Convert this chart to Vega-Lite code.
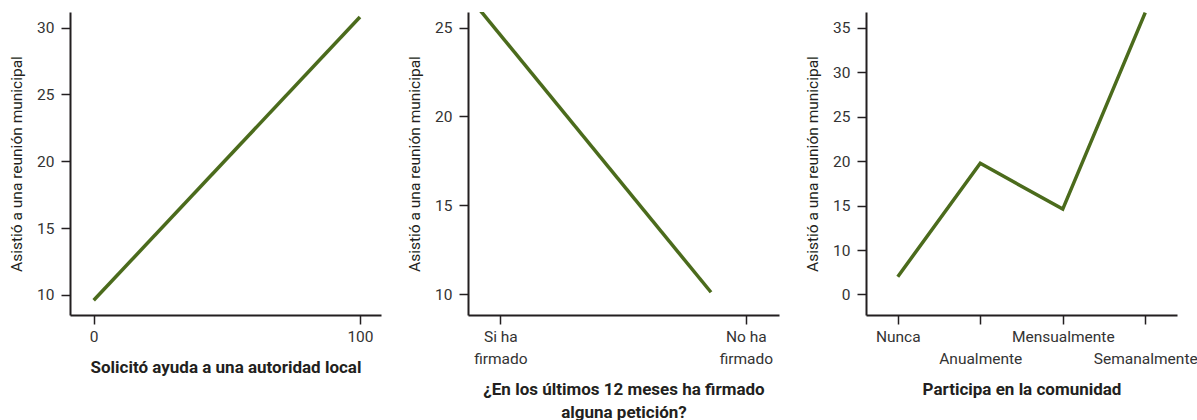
{
  "$schema": "https://vega.github.io/schema/vega-lite/v6.json",
  "padding": {"left": 9, "top": 5, "right": 0, "bottom": 0},
  "background": "white",
  "spacing": 87,
  "bounds": "flush",
  "datasets": {
    "ayuda": [
      {"solicito": 0, "asistio": 9.6},
      {"solicito": 100, "asistio": 30.8}
    ],
    "peticion": [
      {"firmado": 0.916, "asistio": 26.0},
      {"firmado": 1.858, "asistio": 10.1}
    ],
    "comunidad": [
      {"participa": "Nunca", "asistio": 7.0},
      {"participa": "Anualmente", "asistio": 19.75},
      {"participa": "Mensualmente", "asistio": 14.6},
      {"participa": "Semanalmente", "asistio": 36.7}
    ]
  },
  "config": {
    "view": {"stroke": null},
    "font": "Roboto",
    "axis": {
      "grid": false,
      "domainColor": "#231f20",
      "domainWidth": 2,
      "tickColor": "#231f20",
      "tickWidth": 1.5,
      "tickSize": 9,
      "labelFont": "Roboto",
      "labelFontSize": 15.5,
      "labelColor": "#333333",
      "labelLineHeight": 22,
      "titleFont": "Roboto",
      "titleColor": "#231f20"
    },
    "axisX": {
      "labelPadding": 5,
      "titleFontSize": 17,
      "titleFontWeight": "bold",
      "titlePadding": 15,
      "titleLineHeight": 23,
      "labelFlush": false,
      "labelOverlap": false
    },
    "axisY": {
      "labelPadding": 7,
      "titleFontSize": 15.5,
      "titleFontWeight": "normal",
      "titlePadding": 12
    },
    "line": {"color": "#4b6b1c", "strokeWidth": 3.5, "strokeCap": "butt"}
  },
  "hconcat": [
    {
      "width": 311,
      "height": 303,
      "data": {"name": "ayuda"},
      "mark": {"type": "line"},
      "encoding": {
        "x": {
          "field": "solicito",
          "type": "quantitative",
          "scale": {"domain": [-8.9, 107.9], "nice": false, "zero": false},
          "axis": {"values": [0, 100], "title": "Solicitó ayuda a una autoridad local"}
        },
        "y": {
          "field": "asistio",
          "type": "quantitative",
          "scale": {"domain": [8.5, 31.17], "nice": false, "zero": false},
          "axis": {"values": [10, 15, 20, 25, 30], "title": "Asistió a una reunión municipal"}
        }
      }
    },
    {
      "width": 311,
      "height": 303,
      "data": {"name": "peticion"},
      "mark": {"type": "line", "clip": true},
      "encoding": {
        "x": {
          "field": "firmado",
          "type": "quantitative",
          "scale": {"domain": [0.868, 2.135], "nice": false, "zero": false},
          "axis": {
            "values": [1, 2],
            "labelExpr": "datum.value == 1 ? ['Si ha', 'firmado'] : ['No ha', 'firmado']",
            "title": ["¿En los últimos 12 meses ha firmado", "alguna petición?"]
          }
        },
        "y": {
          "field": "asistio",
          "type": "quantitative",
          "scale": {"domain": [8.82, 25.88], "nice": false, "zero": false},
          "axis": {"values": [10, 15, 20, 25], "title": "Asistió a una reunión municipal"}
        }
      }
    },
    {
      "width": 311,
      "height": 303,
      "data": {"name": "comunidad"},
      "mark": {"type": "line"},
      "encoding": {
        "x": {
          "field": "participa",
          "type": "ordinal",
          "sort": null,
          "scale": {"type": "point", "padding": 0.385},
          "axis": {
            "labelAngle": 0,
            "labelExpr": "indexof(['Anualmente', 'Semanalmente'], datum.label) >= 0 ? ['', datum.label] : datum.label",
            "title": "Participa en la comunidad"
          }
        },
        "y": {
          "field": "asistio",
          "type": "quantitative",
          "scale": {"domain": [2.69, 36.77], "nice": false, "zero": false},
          "axis": {
            "values": [5, 10, 15, 20, 25, 30, 35],
            "labelExpr": "datum.value == 5 ? '0' : datum.label",
            "title": "Asistió a una reunión municipal"
          }
        }
      }
    }
  ]
}
